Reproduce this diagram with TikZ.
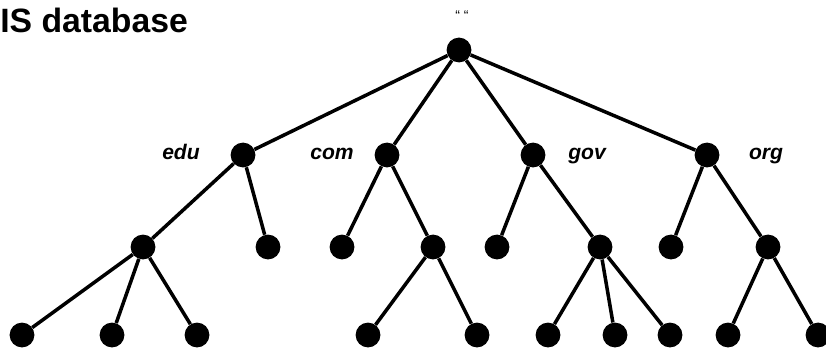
\documentclass[tikz,border=0pt]{standalone}
\usepackage{fontspec}
\setmainfont{Liberation Sans}
\usetikzlibrary{positioning}

\begin{document}
\begin{tikzpicture}[x=0.025cm, y=-0.025cm]
    % Styles
    \tikzstyle{dot} = [circle, fill=black, inner sep=0pt, minimum size=0.62cm]
    \tikzstyle{lbl} = [font=\bfseries\itshape\fontsize{15}{15}\selectfont, inner sep=0pt, anchor=base]
    \tikzstyle{line} = [draw, line width=2.5pt]

    \useasboundingbox (0,0) rectangle (826,348);

    % Title
    \node[anchor=base west, inner sep=0pt, font=\bfseries\fontsize{24}{24}\selectfont] (title) at (0,33) {IS database};

    % Nodes
    \node [dot] (root) at (459,50) {};
    \node [font=\fontsize{10}{10}\selectfont, inner sep=0pt] (rootlbl) at (462,16) {“ “};

    \node [dot] (edu) at (243,155) {};
    \node [dot] (com) at (387,155) {};
    \node [dot] (gov) at (533,155) {};
    \node [dot] (org) at (707,155) {};
    \node [lbl] (edulbl) at (181,159) {edu};
    \node [lbl] (comlbl) at (332,159) {com};
    \node [lbl] (govlbl) at (587,159) {gov};
    \node [lbl] (orglbl) at (766,159) {org};

    \node [dot] (edua) at (143,247) {};
    \node [dot] (edub) at (268,247) {};
    \node [dot] (coma) at (342,247) {};
    \node [dot] (comb) at (433,247) {};
    \node [dot] (gova) at (497,247) {};
    \node [dot] (govb) at (600,247) {};
    \node [dot] (orga) at (671,247) {};
    \node [dot] (orgb) at (768,247) {};

    \node [dot] (edua1) at (22,335) {};
    \node [dot] (edua2) at (112,335) {};
    \node [dot] (edua3) at (197,335) {};
    \node [dot] (comb1) at (368,335) {};
    \node [dot] (comb2) at (477,335) {};
    \node [dot] (govb1) at (548,335) {};
    \node [dot] (govb2) at (615,335) {};
    \node [dot] (govb3) at (670,335) {};
    \node [dot] (orgb1) at (728,335) {};
    \node [dot] (orgb2) at (818,335) {};

    % Paths
    \path [line] (root) -- (edu);
    \path [line] (root) -- (com);
    \path [line] (root) -- (gov);
    \path [line] (root) -- (org);
    \path [line] (edu) -- (edua);
    \path [line] (edu) -- (edub);
    \path [line] (com) -- (coma);
    \path [line] (com) -- (comb);
    \path [line] (gov) -- (gova);
    \path [line] (gov) -- (govb);
    \path [line] (org) -- (orga);
    \path [line] (org) -- (orgb);
    \path [line] (edua) -- (edua1);
    \path [line] (edua) -- (edua2);
    \path [line] (edua) -- (edua3);
    \path [line] (comb) -- (comb1);
    \path [line] (comb) -- (comb2);
    \path [line] (govb) -- (govb1);
    \path [line] (govb) -- (govb2);
    \path [line] (govb) -- (govb3);
    \path [line] (orgb) -- (orgb1);
    \path [line] (orgb) -- (orgb2);
\end{tikzpicture}
\end{document}
